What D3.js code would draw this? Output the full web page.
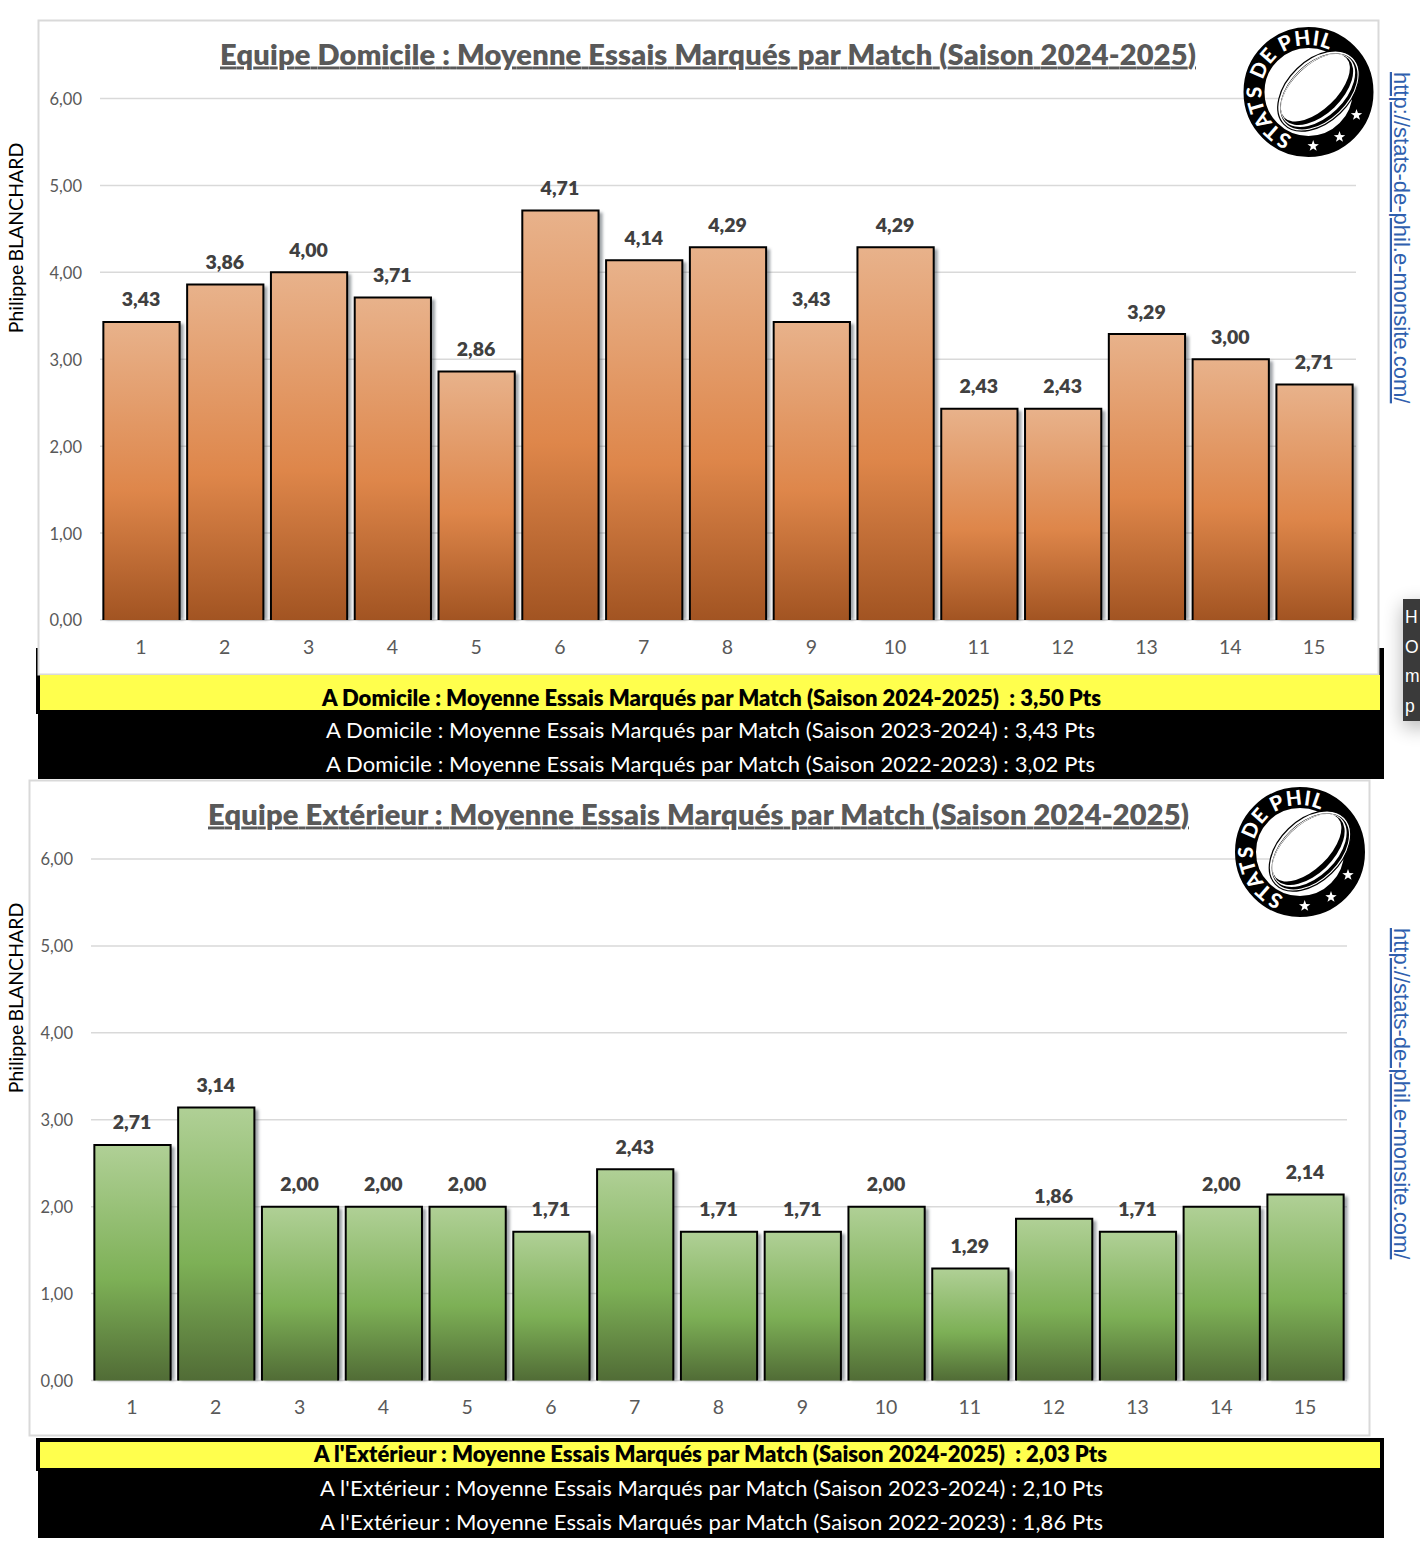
<!DOCTYPE html>
<html><head><meta charset="utf-8">
<script src="https://cdn.jsdelivr.net/npm/d3@7"></script>
<style>
html,body{margin:0;padding:0;background:#fff;}
svg{display:block;}
text{font-family:Lato,"Open Sans",sans-serif;white-space:pre;}
</style></head><body>
<svg id="c" width="1420" height="1560"></svg>
<script>
const matches = [1,2,3,4,5,6,7,8,9,10,11,12,13,14,15];
const homeValues = [3.43,3.86,4.00,3.71,2.86,4.71,4.14,4.29,3.43,4.29,2.43,2.43,3.29,3.00,2.71];
const awayValues = [2.71,3.14,2.00,2.00,2.00,1.71,2.43,1.71,1.71,2.00,1.29,1.86,1.71,2.00,2.14];
const yTicks = [0,1,2,3,4,5,6];
const homeTitle = "Equipe Domicile : Moyenne Essais Marqués par Match (Saison 2024-2025)";
const awayTitle = "Equipe Extérieur : Moyenne Essais Marqués par Match (Saison 2024-2025)";
const homeLines = ["A Domicile : Moyenne Essais Marqués par Match (Saison 2024-2025)  : 3,50 Pts","A Domicile : Moyenne Essais Marqués par Match (Saison 2023-2024) : 3,43 Pts","A Domicile : Moyenne Essais Marqués par Match (Saison 2022-2023) : 3,02 Pts"];
const awayLines = ["A l'Extérieur : Moyenne Essais Marqués par Match (Saison 2024-2025)  : 2,03 Pts","A l'Extérieur : Moyenne Essais Marqués par Match (Saison 2023-2024) : 2,10 Pts","A l'Extérieur : Moyenne Essais Marqués par Match (Saison 2022-2023) : 1,86 Pts"];
const url = "http://stats-de-phil.e-monsite.com/";
const author = "Philippe BLANCHARD";
const fr = d3.format(".2f");
const comma = v => fr(v).replace(".", ",");

const svg = d3.select("#c");
const defs = svg.append("defs");
function grad(id, stops){
  const g = defs.append("linearGradient").attr("id",id).attr("x1",0).attr("y1",0).attr("x2",0).attr("y2",1);
  stops.forEach(s=>g.append("stop").attr("offset",s[0]).attr("stop-color",s[1]));
}
grad("orange",[[0,"#E8B28B"],[0.57,"#DE864A"],[1,"#A25422"]]);
grad("green",[[0,"#B0D096"],[0.57,"#7DB056"],[1,"#516C36"]]);
const blur = defs.append("filter").attr("id","sh").attr("x","-10%").attr("y","-10%").attr("width","130%").attr("height","130%");
blur.append("feGaussianBlur").attr("stdDeviation",1.6);
const blur2 = defs.append("filter").attr("id","sh2").attr("x","-100%").attr("y","-30%").attr("width","300%").attr("height","160%");
blur2.append("feGaussianBlur").attr("stdDeviation",10);

// black sheets behind the charts
svg.append("rect").attr("x",36).attr("y",648).attr("width",1348).attr("height",66).attr("fill","#000");
svg.append("rect").attr("x",38).attr("y",710).attr("width",1346).attr("height",69).attr("fill","#000");
svg.append("rect").attr("x",36).attr("y",1438).attr("width",1348).attr("height",33).attr("fill","#000");
svg.append("rect").attr("x",38).attr("y",1471).attr("width",1346).attr("height",67).attr("fill","#000");

function starPath(r){
  const pts=[];
  for(let i=0;i<10;i++){const a=-Math.PI/2+i*Math.PI/5,q=i%2?r*0.4:r;pts.push([q*Math.cos(a),q*Math.sin(a)]);}
  return d3.line()(pts)+"Z";
}
function logo(cx,cy,id){
  const g=svg.append("g").attr("transform",`translate(${cx},${cy})`);
  g.append("circle").attr("r",54.5).attr("fill","none").attr("stroke","#000").attr("stroke-width",21);
  // ball
  const b=g.append("g").attr("transform","translate(10,-1) rotate(-44)");
  b.append("ellipse").attr("rx",48).attr("ry",31).attr("fill","#fff").attr("stroke","#000").attr("stroke-width",1.2);
  b.append("ellipse").attr("rx",46).attr("ry",28.8).attr("cy",0.5).attr("fill","#000");
  b.append("ellipse").attr("rx",45).attr("ry",26.8).attr("cy",-1).attr("fill","#fff");
  b.append("ellipse").attr("rx",44).attr("ry",24.8).attr("cy",-2).attr("fill","#000");
  b.append("ellipse").attr("rx",43).attr("ry",22).attr("cy",-4.5).attr("fill","#fff");
  // lettering
  defs.append("path").attr("id",id).attr("d",d3.arc().innerRadius(47).outerRadius(47).startAngle(-2.79).endAngle(1.2)().split("L")[0]);
  g.append("text").attr("fill","#fff").attr("font-size",20.5).attr("font-weight",900)
   .append("textPath").attr("href","#"+id).attr("textLength",152).attr("lengthAdjust","spacing").text("STATS DE PHIL");
  [[48,23],[31,45],[4.7,54]].forEach(s=>g.append("path").attr("d",starPath(6)).attr("fill","#fff").attr("transform",`translate(${s[0]},${s[1]})`));
}

function chart(o){
  const g=svg.append("g");
  g.append("rect").attr("x",o.fx+0.5).attr("y",o.fy+0.5).attr("width",1340).attr("height",o.fh)
    .attr("fill","#fff").attr("stroke","#D9D9D9").attr("stroke-width",2);
  const x=d3.scaleBand().domain(matches).range([o.x0,o.x1]).paddingInner(0.09).paddingOuter(0.04);
  const y=d3.scaleLinear().domain([0,6]).range([o.y0,o.y6]);
  // gridlines
  g.append("g").selectAll("line").data(yTicks).join("line")
    .attr("x1",o.x0).attr("x2",o.x1).attr("y1",d=>y(d)).attr("y2",d=>y(d))
    .attr("stroke","#D9D9D9").attr("stroke-width",1.5);
  // axes
  const ay=g.append("g").attr("transform",`translate(${o.x0-18},0.7)`)
    .call(d3.axisLeft(y).tickValues(yTicks).tickFormat(comma).tickSize(0).tickPadding(0));
  ay.select(".domain").remove();
  ay.selectAll("text").attr("fill","#595959").attr("font-size",16.5).style("font-family","Lato");
  const ax=g.append("g").attr("transform",`translate(-0.5,${o.y0})`)
    .call(d3.axisBottom(x).tickSize(0).tickPadding(20));
  ax.select(".domain").remove();
  ax.selectAll("text").attr("fill","#595959").attr("font-size",19.5).style("font-family","Lato");
  // bar shadows
  g.append("g").selectAll("rect").data(o.values).join("rect")
    .attr("x",(d,i)=>x(matches[i])+3).attr("y",d=>y(d)+2)
    .attr("width",x.bandwidth()+1).attr("height",d=>o.y0-y(d)-2)
    .attr("fill","#3C4650").attr("opacity",0.5).attr("filter","url(#sh)");
  // bar fills
  g.append("g").selectAll("rect").data(o.values).join("rect")
    .attr("x",(d,i)=>x(matches[i])).attr("y",d=>y(d))
    .attr("width",x.bandwidth()).attr("height",d=>o.y0-y(d))
    .attr("fill",`url(#${o.grad})`);
  // bar outlines: three sides, open at the baseline
  g.append("g").selectAll("path").data(o.values).join("path")
    .attr("d",(d,i)=>d3.line()([[x(matches[i]),o.y0],[x(matches[i]),y(d)],[x(matches[i])+x.bandwidth(),y(d)],[x(matches[i])+x.bandwidth(),o.y0]]))
    .attr("fill","none").attr("stroke","#000").attr("stroke-width",2);
  // value labels
  g.append("g").selectAll("text").data(o.values).join("text")
    .attr("x",(d,i)=>x(matches[i])+x.bandwidth()/2-0.5).attr("y",d=>y(d)-15.5)
    .attr("text-anchor","middle").attr("font-size",19.5).attr("font-weight",800).attr("fill","#404040")
    .text(comma);
  // title
  g.append("text").attr("x",o.tx).attr("y",o.fy+44.5).attr("text-anchor","middle")
    .attr("font-size",29).attr("font-weight",800).attr("fill","#595959")
    .attr("text-decoration","underline").attr("textLength",o.tw).text(o.title);
  // author
  g.append("text").attr("transform",`translate(23,${o.ay}) rotate(-90)`).attr("text-anchor","middle")
    .attr("font-size",19.5).attr("word-spacing",-2).attr("fill","#000").text(author);
  logo(o.lx,o.ly,o.grad+"Arc");
  // url
  svg.append("text").attr("transform",`translate(1394,${o.uy}) rotate(90)`)
    .attr("font-size",22).attr("fill","#2F5FAE").attr("text-decoration","underline")
    .style("font-family","'Liberation Sans'").text(url);
}
chart({fx:38,fy:20,fh:654,x0:100,x1:1356,y0:620,y6:98.5,values:homeValues,grad:"orange",title:homeTitle,tx:708,tw:976,ay:238,lx:1308.5,ly:92,uy:72});
chart({fx:29,fy:780,fh:655,x0:91,x1:1347,y0:1380.5,y6:859,values:awayValues,grad:"green",title:awayTitle,tx:698.5,tw:981,ay:998,lx:1300,ly:852,uy:928});

// summary bands
function bands(yy,h,lines,ys,cx,ws){
  svg.append("rect").attr("x",40).attr("y",yy).attr("width",1340).attr("height",h).attr("fill","#FFFF4D");
  lines.forEach((t,i)=>svg.append("text").attr("x",cx[i]).attr("y",ys[i]).attr("text-anchor","middle")
    .attr("font-size",22).attr("font-weight",i?400:800).attr("fill",i?"#fff":"#000").attr("textLength",ws[i]).text(t));
}
bands(675,35,homeLines,[706,738,772],[711.5,710.5,710.5],[779,769,769]);
bands(1442,26,awayLines,[1462,1496,1530],[710.5,711.5,711.5],[793,783,783]);

// cropped tooltip at the right edge
svg.append("rect").attr("x",1403).attr("y",605).attr("width",30).attr("height",122).attr("fill","#000").attr("opacity",0.3).attr("filter","url(#sh2)");
svg.append("rect").attr("x",1403).attr("y",599).attr("width",17).attr("height",122).attr("fill","#3A3A3A");
["H","O","m","p"].forEach((t,i)=>svg.append("text").attr("x",1405).attr("y",623+i*29.5)
  .attr("font-size",17.5).attr("fill","#fff").style("font-family","'Liberation Sans'").text(t));
</script>
</body></html>
